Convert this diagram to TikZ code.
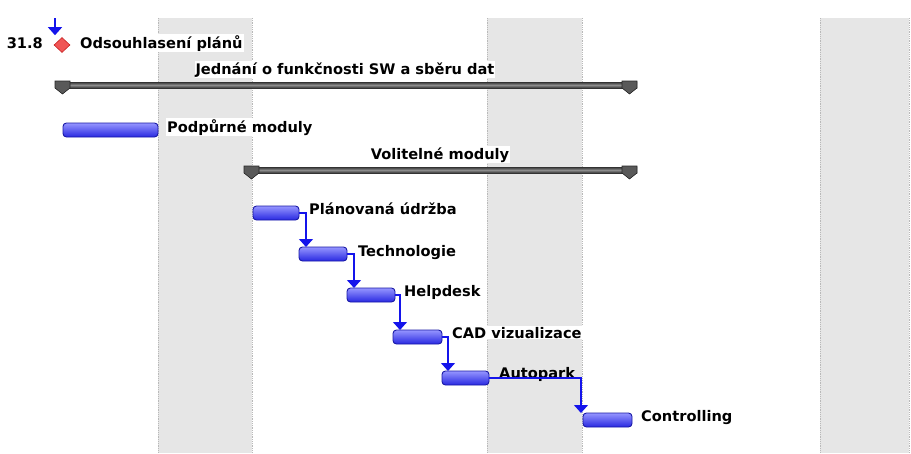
\documentclass[tikz,border=0pt]{standalone}
\usepackage{fontspec}
\setmainfont{DejaVu Sans}
\usetikzlibrary{shapes.geometric,arrows.meta}

\definecolor{barlight}{RGB}{150,150,255}
\definecolor{bardark}{RGB}{40,40,225}
\definecolor{baredge}{RGB}{25,25,165}
\definecolor{linkblue}{RGB}{20,20,235}
\definecolor{msfill}{RGB}{240,85,85}
\definecolor{msedge}{RGB}{200,35,35}
\definecolor{bandfill}{RGB}{230,230,230}

\tikzset{
  band/.style={fill=bandfill},
  bandedge/.style={draw=gray!55, densely dotted, line width=0.8pt},
  taskbar/.style={rectangle, rounded corners=3.5pt, draw=baredge, line width=0.9pt,
    top color=barlight, bottom color=bardark, inner sep=0pt, outer sep=0pt,
    anchor=north west},
  lbl/.style={font=\bfseries\fontsize{14.6}{17}\selectfont, fill=white,
    inner sep=1pt, anchor=base west},
  link/.style={draw=linkblue, line width=1.3pt,
    -{Triangle[width=14pt,length=8pt]}},
  milestone/.style={diamond, draw=msedge, line width=0.6pt, fill=msfill,
    minimum width=16pt, minimum height=15pt, inner sep=0pt},
  sumline/.style={top color=black!80, bottom color=black!80, middle color=black!45},
  summark/.style={fill=black!65, draw=black!85, line width=0.6pt}
}

% summary bar: left x, right x, top y
\newcommand\sumbar[3]{%
  \fill[sumline] (#1,#3) rectangle (#2,#3+6);
  \draw[summark] (#1,#3-1) -- (#1+15,#3-1) -- (#1+15,#3+6) -- (#1+7.5,#3+12)
    -- (#1,#3+6) -- cycle;
  \draw[summark] (#2-15,#3-1) -- (#2,#3-1) -- (#2,#3+6) -- (#2-7.5,#3+12)
    -- (#2-15,#3+6) -- cycle;
}

\begin{document}
\begin{tikzpicture}[x=1pt,y=-1pt]
\useasboundingbox (0,0) rectangle (911,453);

% non-working-time bands
\foreach \a/\b in {158/252, 487/582, 820/909}{
  \fill[band] (\a,18) rectangle (\b,453);
  \draw[bandedge] (\a,18) -- (\a,453);
  \draw[bandedge] (\b,18) -- (\b,453);
}

% milestone
\node[milestone] (ms) at (62,45) {};
\coordinate (msin) at (55,18);
\draw[link] (msin) -- ([yshift=2pt]msin |- ms.north);
\node[lbl, fill=none, anchor=base east] (msdate) at (44,48) {31.8};
\node[lbl] (msl) at (79,48) {Odsouhlasení plánů};

% summary tasks
\sumbar{55}{637}{82}
\node[lbl, anchor=base] (s1) at (345,74) {Jednání o funkčnosti SW a sběru dat};
\sumbar{244}{637}{167}
\node[lbl, anchor=base] (s2) at (440,159) {Volitelné moduly};

% tasks
\node[taskbar, minimum width=95pt, minimum height=14pt] (t0) at (63,123) {};
\node[lbl] (l0) at (166,132) {Podpůrné moduly};

\node[taskbar, minimum width=46pt, minimum height=14pt] (t1) at (253,206) {};
\node[taskbar, minimum width=48pt, minimum height=14pt] (t2) at (299,247) {};
\node[taskbar, minimum width=48pt, minimum height=14pt] (t3) at (347,288) {};
\node[taskbar, minimum width=49pt, minimum height=14pt] (t4) at (393,330) {};
\node[taskbar, minimum width=47pt, minimum height=14pt] (t5) at (442,371) {};
\node[taskbar, minimum width=49pt, minimum height=14pt] (t6) at (583,413) {};

\node[lbl] (l1) at (308,214) {Plánovaná údržba};
\node[lbl] (l2) at (357,256) {Technologie};
\node[lbl] (l3) at (403,296) {Helpdesk};
\node[lbl] (l4) at (451,338) {CAD vizualizace};
\node[lbl, fill=none] (l5) at (498,378) {Autopark};
\node[lbl] (l6) at (640,421) {Controlling};

% dependencies
\draw[link] (t1.east) -| ([xshift=7pt]t2.north west);
\draw[link] (t2.east) -| ([xshift=7pt]t3.north west);
\draw[link] (t3.east) -| ([xshift=7pt]t4.north west);
\draw[link] (t4.east) -| ([xshift=6pt]t5.north west);
\draw[link] (t5.east) -| ([xshift=-2pt]t6.north west);
\end{tikzpicture}
\end{document}
